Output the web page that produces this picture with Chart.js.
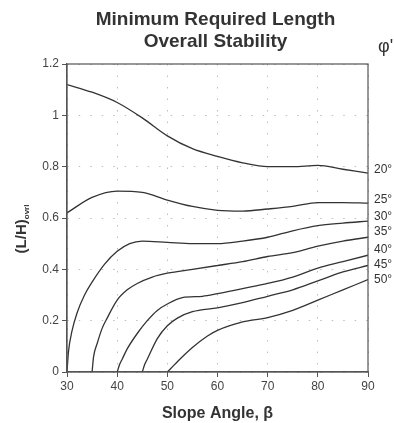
<!DOCTYPE html>
<html>
<head>
<meta charset="utf-8">
<script src="https://cdn.jsdelivr.net/npm/chart.js"></script>
<style>
  html, body { margin: 0; padding: 0; background: #fff; }
  #wrap { width: 394px; height: 423px; position: relative; }
</style>
</head>
<body>
<div id="wrap"><canvas id="chart"></canvas></div>
<script>
// curve data (slope angle -> L/H)
const angles = [30, 35, 40, 45, 50, 55, 60, 65, 70, 75, 80, 85, 90];
const phi20 = [1.12, 1.09, 1.05, 0.99, 0.92, 0.87, 0.84, 0.815, 0.80, 0.80, 0.805, 0.79, 0.775];
const phi25 = [0.62, 0.68, 0.705, 0.70, 0.67, 0.645, 0.63, 0.627, 0.635, 0.645, 0.66, 0.66, 0.658];

const phi30Angles = [30, 30.3, 31, 32, 33.5, 35, 37.5, 40, 42.5, 45, 50, 55, 60, 65, 70, 75, 80, 85, 90];
const phi30 = [0, 0.08, 0.16, 0.23, 0.30, 0.35, 0.42, 0.47, 0.50, 0.51, 0.505, 0.50, 0.50, 0.51, 0.525, 0.55, 0.57, 0.58, 0.588];

const phi35Angles = [35, 35.3, 36, 37, 38, 40, 42, 44, 47, 50, 55, 60, 65, 70, 75, 80, 85, 90];
const phi35 = [0, 0.06, 0.11, 0.17, 0.21, 0.28, 0.32, 0.345, 0.37, 0.385, 0.40, 0.415, 0.43, 0.45, 0.465, 0.49, 0.51, 0.525];

const phi40Angles = [40, 40.5, 41, 42, 44, 46, 48, 50, 53, 57, 60, 65, 70, 75, 80, 85, 90];
const phi40 = [0, 0.03, 0.05, 0.09, 0.15, 0.20, 0.24, 0.265, 0.29, 0.295, 0.305, 0.325, 0.345, 0.37, 0.405, 0.43, 0.455];

const phi45Angles = [45, 45.5, 46, 48, 50, 52, 55, 60, 65, 70, 75, 80, 85, 90];
const phi45 = [0, 0.03, 0.05, 0.13, 0.18, 0.21, 0.235, 0.25, 0.27, 0.295, 0.32, 0.355, 0.39, 0.415];

const phi50Angles = [50, 51, 52, 55, 58, 60, 65, 70, 75, 80, 85, 90];
const phi50 = [0, 0.02, 0.04, 0.095, 0.14, 0.162, 0.195, 0.212, 0.24, 0.28, 0.32, 0.36];

// right-hand friction angle labels and where they sit
const phiLabels = ['20°', '25°', '30°', '35°', '40°', '45°', '50°'];
const phiLabelY = [0.79, 0.67, 0.604, 0.545, 0.475, 0.42, 0.358];

const xTicks = [30, 40, 50, 60, 70, 80, 90];
const yTicks = [0, 0.2, 0.4, 0.6, 0.8, 1, 1.2];

const titleLines = ['Minimum Required Length', 'Overall Stability'];

const INK = '#333';
const FONT = '"Liberation Sans", Arial, sans-serif';

function toPoints(xs, ys) {
    return xs.map((x, i) => ({ x: x, y: ys[i] }));
}

function curve(label, xs, ys) {
    return {
        label: label,
        data: toPoints(xs, ys),
        borderColor: INK,
        borderWidth: 1.3,
        pointRadius: 0,
        fill: false,
        cubicInterpolationMode: 'monotone'
    };
}

// frame, title, phi labels and y title
const decorations = {
    id: 'decorations',
    afterDraw(chart) {
        const ctx = chart.ctx;
        const area = chart.chartArea;
        const ys = chart.scales.y;
        const cx = (area.left + area.right) / 2;
        ctx.save();
        ctx.strokeStyle = '#555';
        ctx.lineWidth = 1.2;
        ctx.strokeRect(area.left, area.top, area.right - area.left, area.bottom - area.top);

        ctx.fillStyle = INK;
        ctx.textBaseline = 'middle';

        // title
        ctx.textAlign = 'center';
        ctx.font = 'bold 19px ' + FONT;
        ctx.fillText(titleLines[0], cx - 2, 20);
        ctx.fillText(titleLines[1], cx - 2, 42);

        ctx.textAlign = 'left';
        ctx.font = '12px ' + FONT;
        phiLabels.forEach((t, i) => {
            ctx.fillText(t, area.right + 6, ys.getPixelForValue(phiLabelY[i]));
        });

        ctx.font = '18px ' + FONT;
        ctx.fillText('φ\'', area.right + 10, 47);

        // (L/H)ovrl rotated
        ctx.translate(22, 229);
        ctx.rotate(-Math.PI / 2);
        const main = '(L/H)';
        ctx.font = 'bold 8px ' + FONT;
        const subW = ctx.measureText('ovrl').width;
        ctx.font = 'bold 15px ' + FONT;
        const mainW = ctx.measureText(main).width;
        const start = -(mainW + subW) / 2;
        ctx.fillText(main, start, 0);
        ctx.font = 'bold 8px ' + FONT;
        ctx.fillText('ovrl', start + mainW, 5);
        ctx.restore();
    }
};

const gridStyle = {
    color: '#bdbdbd',
    tickColor: '#555',
    tickBorderDash: [],
    tickLength: 5
};

new Chart(document.getElementById('chart'), {
    type: 'line',
    data: {
        datasets: [
            curve('20°', angles, phi20),
            curve('25°', angles, phi25),
            curve('30°', phi30Angles, phi30),
            curve('35°', phi35Angles, phi35),
            curve('40°', phi40Angles, phi40),
            curve('45°', phi45Angles, phi45),
            curve('50°', phi50Angles, phi50)
        ]
    },
    options: {
        responsive: true,
        maintainAspectRatio: false,
        animation: false,
        layout: { padding: { left: 0, right: 26, top: 64, bottom: 0 } },
        plugins: {
            legend: { display: false },
            tooltip: { enabled: false },
            title: { display: false }
        },
        scales: {
            x: {
                type: 'linear',
                min: 30,
                max: 90,
                afterBuildTicks: (s) => { s.ticks = xTicks.map(v => ({ value: v })); },
                afterFit: (s) => { s.height = 51; },
                ticks: {
                    color: '#444',
                    font: { family: FONT, size: 12 },
                    padding: 2,
                    maxRotation: 0
                },
                grid: gridStyle,
                border: { color: '#555', width: 1.2, dash: [1.5, 10] },
                title: {
                    display: true,
                    text: 'Slope Angle, β',
                    color: INK,
                    font: { family: FONT, size: 16, weight: 'bold' },
                    padding: { top: 0, bottom: 0 }
                }
            },
            y: {
                min: 0,
                max: 1.2,
                afterBuildTicks: (s) => { s.ticks = yTicks.map(v => ({ value: v })); },
                afterFit: (s) => { s.width = 67; },
                ticks: {
                    color: '#444',
                    font: { family: FONT, size: 12 },
                    padding: 3,
                    callback: (v) => String(v)
                },
                grid: gridStyle,
                border: { color: '#555', width: 1.2, dash: [1.5, 10] }
            }
        }
    },
    plugins: [decorations]
});
</script>
</body>
</html>
